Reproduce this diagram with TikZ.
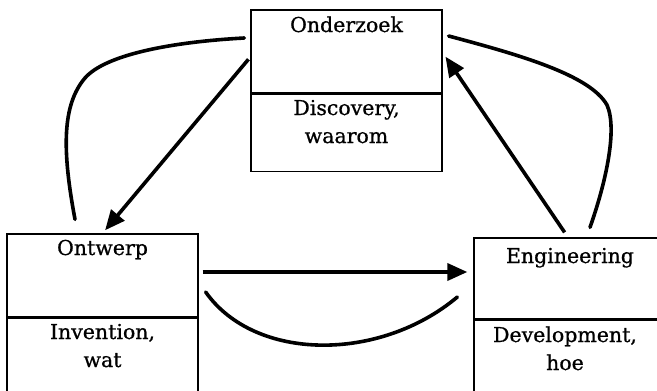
\documentclass[tikz,border=0pt]{standalone}
\usepackage{fontspec}
\setmainfont{DejaVu Serif}
\newfontfamily\boxfont{DejaVu Serif}[FakeBold=0.8]
\usetikzlibrary{arrows.meta, positioning}

\begin{document}
\begin{tikzpicture}
  [
    x=1pt, y=-1pt,
    Box/.style={rectangle, draw=black, line width=1.3pt, inner sep=0pt, minimum width=191pt},
    Label/.style={font=\boxfont\fontsize{20.5}{28}\selectfont, align=center, anchor=base},
    Arrow/.style={-{Triangle[length=20pt, width=17pt]}, line width=3.6pt},
    Bend/.style={line width=3.6pt, line cap=round}
  ]
  \clip (0, 0) rectangle (657, 391);
  % Boxes
  \node[Box, minimum height=83pt] (ondA) at (346.5, 51.5) {};
  \node[Box, minimum height=77pt, below=0pt of ondA] (ondB) {};
  \node[Box, minimum height=83pt] (ontA) at (102.5, 275.5) {};
  \node[Box, minimum height=100pt, below=0pt of ontA] (ontB) {};
  \node[Box, minimum height=81pt, minimum width=192pt] (engA) at (570, 278.5) {};
  \node[Box, minimum height=98pt, minimum width=192pt, below=0pt of engA] (engB) {};
  % Texts
  \node[Label] (ondT) at (346.5, 32) {Onderzoek};
  \node[Label] (ondS) at (346.5, 143) {Discovery,\\waarom};
  \node[Label] (ontT) at (102.5, 255) {Ontwerp};
  \node[Label] (ontS) at (102.5, 367) {Invention,\\wat};
  \node[Label] (engT) at (570, 263) {Engineering};
  \node[Label] (engS) at (565, 370) {Development,\\hoe};
  % Lines
  \path [Arrow, draw, shorten <=3pt, shorten >=4pt] ([yshift=-5.5pt]ondA.west) -- (ontA.north);
  \path [Arrow, draw, shorten <=6pt, shorten >=5pt] ([xshift=-2pt]engA.north) -- ([yshift=-1pt]ondA.east);
  \path [Arrow, draw, shorten <=4pt, shorten >=6pt] ([yshift=3.5pt]ontA.east) -- ([yshift=3.5pt]ontA.east -| engA.west);
  \path [Bend, draw] ([xshift=-27.5pt, yshift=14pt]ontA.north) .. controls (62, 150) and (62, 105) .. (85, 78)
    .. controls (105, 55) and (170, 42) .. ([xshift=-6pt, yshift=13.5pt]ondA.west);
  \path [Bend, draw] ([xshift=6pt, yshift=15.5pt]ondA.east) .. controls (520, 55) and (590, 75) .. (607, 105)
    .. controls (618, 130) and (605, 185) .. ([xshift=20pt, yshift=10pt]engA.north);
  \path [Bend, draw] ([xshift=7pt, yshift=-16.5pt]ontA.east) .. controls (255, 362) and (380, 362) .. ([xshift=-16pt, yshift=-18.5pt]engA.west);
\end{tikzpicture}
\end{document}
